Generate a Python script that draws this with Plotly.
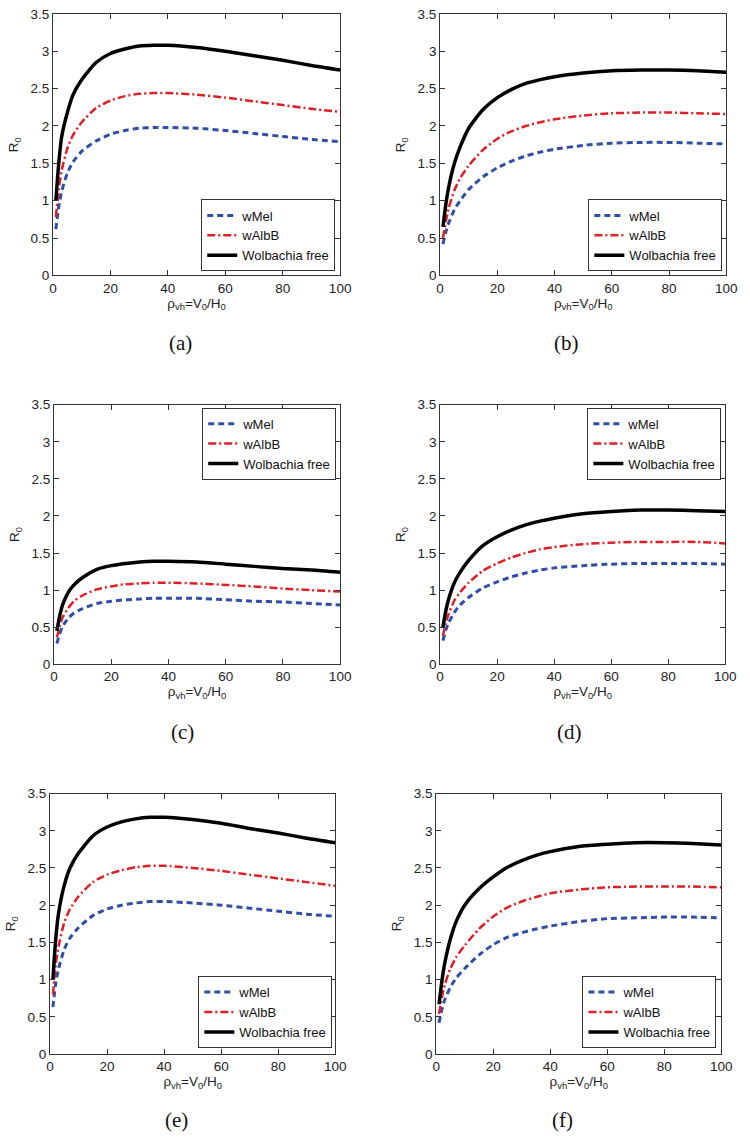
import plotly.graph_objects as go

W, H = 750, 1144

x_vals = [1, 2, 3, 5, 7, 10, 15, 20, 25, 30, 35, 40, 50, 60, 70, 80, 90, 100]

# Panel (a)
a_free = [1.0, 1.5, 1.85, 2.18, 2.42, 2.62, 2.85, 2.97, 3.03, 3.07, 3.08, 3.08, 3.05, 3.0, 2.94, 2.88, 2.81, 2.75]
a_albb = [0.78, 1.15, 1.4, 1.7, 1.88, 2.05, 2.24, 2.34, 2.4, 2.43, 2.44, 2.44, 2.42, 2.38, 2.33, 2.28, 2.23, 2.19]
a_wmel = [0.62, 0.92, 1.12, 1.37, 1.52, 1.66, 1.8, 1.89, 1.94, 1.97, 1.98, 1.98, 1.97, 1.94, 1.9, 1.86, 1.82, 1.79]
# Panel (b)
b_free = [0.65, 0.95, 1.18, 1.5, 1.72, 1.97, 2.22, 2.38, 2.49, 2.57, 2.62, 2.66, 2.71, 2.74, 2.75, 2.75, 2.74, 2.72]
b_albb = [0.5, 0.72, 0.9, 1.14, 1.3, 1.47, 1.68, 1.83, 1.93, 2.0, 2.05, 2.09, 2.14, 2.17, 2.18, 2.18, 2.17, 2.16]
b_wmel = [0.42, 0.58, 0.7, 0.88, 1.0, 1.15, 1.32, 1.44, 1.53, 1.6, 1.65, 1.69, 1.74, 1.77, 1.78, 1.78, 1.77, 1.76]
# Panel (c)
c_free = [0.45, 0.65, 0.8, 0.97, 1.07, 1.17, 1.28, 1.33, 1.36, 1.38, 1.39, 1.39, 1.38, 1.35, 1.32, 1.29, 1.27, 1.24]
c_albb = [0.36, 0.51, 0.63, 0.76, 0.85, 0.93, 1.01, 1.05, 1.08, 1.09, 1.1, 1.1, 1.09, 1.07, 1.05, 1.02, 1.0, 0.98]
c_wmel = [0.28, 0.41, 0.51, 0.62, 0.69, 0.75, 0.82, 0.85, 0.87, 0.88, 0.89, 0.89, 0.89, 0.87, 0.85, 0.84, 0.82, 0.8]
# Panel (d)
d_free = [0.5, 0.72, 0.88, 1.1, 1.24, 1.4, 1.6, 1.72, 1.81, 1.88, 1.93, 1.97, 2.03, 2.06, 2.08, 2.08, 2.07, 2.06]
d_albb = [0.38, 0.56, 0.68, 0.86, 0.97, 1.1, 1.26, 1.36, 1.44, 1.5, 1.55, 1.58, 1.62, 1.64, 1.65, 1.65, 1.65, 1.63]
d_wmel = [0.32, 0.46, 0.56, 0.7, 0.8, 0.9, 1.03, 1.11, 1.18, 1.23, 1.27, 1.3, 1.33, 1.35, 1.36, 1.36, 1.36, 1.35]
# Panel (e)
e_free = [1.0, 1.55, 1.9, 2.27, 2.5, 2.7, 2.93, 3.05, 3.12, 3.16, 3.18, 3.18, 3.15, 3.1, 3.03, 2.97, 2.9, 2.84]
e_albb = [0.8, 1.2, 1.45, 1.77, 1.95, 2.12, 2.31, 2.41, 2.47, 2.51, 2.53, 2.53, 2.5, 2.46, 2.41, 2.36, 2.31, 2.26]
e_wmel = [0.63, 0.95, 1.15, 1.41, 1.56, 1.7, 1.86, 1.95, 2.0, 2.03, 2.05, 2.05, 2.03, 2.0, 1.96, 1.92, 1.88, 1.85]
# Panel (f)
f_free = [0.67, 0.98, 1.22, 1.55, 1.78, 2.0, 2.22, 2.38, 2.51, 2.6, 2.67, 2.72, 2.79, 2.82, 2.84, 2.84, 2.83, 2.81]
f_albb = [0.54, 0.76, 0.93, 1.15, 1.3, 1.46, 1.68, 1.85, 1.97, 2.05, 2.11, 2.16, 2.21, 2.24, 2.25, 2.25, 2.25, 2.24]
f_wmel = [0.42, 0.6, 0.73, 0.9, 1.02, 1.15, 1.33, 1.47, 1.57, 1.63, 1.68, 1.72, 1.78, 1.82, 1.83, 1.84, 1.84, 1.83]

series_names = ["wMel", "wAlbB", "Wolbachia free"]
captions = ["(a)", "(b)", "(c)", "(d)", "(e)", "(f)"]
x_ticks = [0, 20, 40, 60, 80, 100]
y_ticks = [0, 0.5, 1, 1.5, 2, 2.5, 3, 3.5]

panels = [
    (a_wmel, a_albb, a_free),
    (b_wmel, b_albb, b_free),
    (c_wmel, c_albb, c_free),
    (d_wmel, d_albb, d_free),
    (e_wmel, e_albb, e_free),
    (f_wmel, f_albb, f_free),
]

# pixel boxes (left, right, top, bottom)
boxes = [
    (50, 343, 7, 272),
    (445, 737, 7, 272),
    (51, 343, 403, 666),
    (445, 736, 403, 666),
    (47, 338, 797, 1061),
    (441, 732, 797, 1061),
]
# legend anchor (right, y, anchor)
legend_pos = [
    (338, 268, "bottom"),
    (733, 268, "bottom"),
    (339, 406, "top"),
    (732, 406, "top"),
    (335, 1055, "bottom"),
    (727, 1055, "bottom"),
]
caption_pos = [(180, 340), (574, 340), (182, 735), (577, 735), (176, 1128), (570, 1128)]

styles = [
    dict(color="#2E4FA3", width=3, dash="6px,4px"),
    dict(color="#DD2026", width=2.5, dash="8px,3px,2px,3px"),
    dict(color="#000000", width=3.5, dash="solid"),
]

FONT = "Liberation Sans, Arial, sans-serif"
fig = go.Figure()
layout = dict(
    width=W, height=H, margin=dict(l=0, r=0, t=0, b=0),
    paper_bgcolor="white", plot_bgcolor="white",
    font=dict(family=FONT, size=13, color="#222"),
    annotations=[],
)

for i, (vals, box) in enumerate(zip(panels, boxes)):
    k = i + 1
    xa = "x" if k == 1 else f"x{k}"
    ya = "y" if k == 1 else f"y{k}"
    lg = "legend" if k == 1 else f"legend{k}"
    for name, v, st in zip(series_names, vals, styles):
        fig.add_trace(go.Scatter(
            x=x_vals, y=v, name=name, mode="lines",
            line=dict(shape="spline", smoothing=0.6, **st),
            xaxis=xa, yaxis=ya, legend=lg,
        ))
    l, r, t, b = box
    axcommon = dict(
        showline=True, linecolor="#333", linewidth=1, mirror="ticks",
        ticks="inside", ticklen=5, tickcolor="#333", showgrid=False,
        zeroline=False, tickfont=dict(family=FONT, size=13.5, color="#222"),
    )
    layout["xaxis" if k == 1 else f"xaxis{k}"] = dict(
        domain=[l / W, r / W], range=[0, 100], tickvals=x_ticks,
        anchor=ya,
        title=dict(text="ρ<sub>vh</sub>=V<sub>0</sub>/H<sub>0</sub>",
                   font=dict(family=FONT, size=13.5, color="#222"), standoff=2),
        **axcommon,
    )
    layout["yaxis" if k == 1 else f"yaxis{k}"] = dict(
        domain=[1 - b / H, 1 - t / H], range=[0, 3.5], tickvals=y_ticks,
        anchor=xa,
        title=dict(text="R<sub>0</sub>",
                   font=dict(family=FONT, size=13.5, color="#222"), standoff=8),
        **axcommon,
    )
    lx, ly, anc = legend_pos[i]
    layout[lg] = dict(
        x=lx / W, y=1 - ly / H, xanchor="right", yanchor=anc,
        xref="paper", yref="paper",
        bgcolor="white", bordercolor="#333", borderwidth=1,
        font=dict(family=FONT, size=13, color="#111"),
        itemwidth=30, tracegroupgap=0,
    )
    cx, cy = caption_pos[i]
    layout["annotations"].append(dict(
        x=cx / W, y=1 - cy / H, xref="paper", yref="paper",
        text=captions[i], showarrow=False,
        font=dict(family="Liberation Serif, DejaVu Serif, serif", size=21, color="#111"),
        xanchor="center", yanchor="middle",
    ))

fig.update_layout(**layout)
fig.write_html("out.html", config={"displayModeBar": False},
               post_script="document.body.style.margin='0';")
